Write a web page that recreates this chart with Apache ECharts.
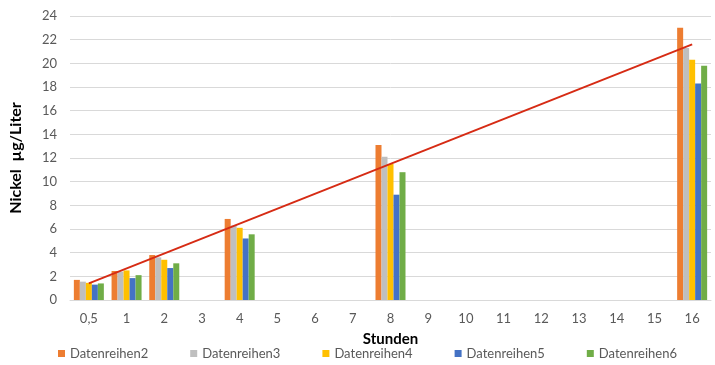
<!DOCTYPE html>
<html><head><meta charset="utf-8">
<script src="https://cdn.jsdelivr.net/npm/echarts@6/dist/echarts.min.js"></script>
<style>html,body{margin:0;padding:0;background:#fff}#c{width:715px;height:365px}</style>
</head><body><div id="c"></div>
<script>
const categories = ['0,5','1','2','3','4','5','6','7','8','9','10','11','12','13','14','15','16'];
const seriesNames = ['Datenreihen2','Datenreihen3','Datenreihen4','Datenreihen5','Datenreihen6'];
const d2 = [1.7, 2.45, 3.8, null, 6.85, null, null, null, 13.1, null, null, null, null, null, null, null, 23.0];
const d3 = [1.55, 2.4, 3.6, null, 6.3, null, null, null, 12.1, null, null, null, null, null, null, null, 21.3];
const d4 = [1.45, 2.5, 3.4, null, 6.1, null, null, null, 11.5, null, null, null, null, null, null, null, 20.3];
const d5 = [1.3, 1.85, 2.7, null, 5.2, null, null, null, 8.9, null, null, null, null, null, null, null, 18.3];
const d6 = [1.4, 2.1, 3.1, null, 5.55, null, null, null, 10.8, null, null, null, null, null, null, null, 19.8];
const trend = [1.4, null, null, null, null, null, null, null, null, null, null, null, null, null, null, null, 21.6];
const yTicks = {min: 0, max: 24, interval: 2};
const colors = ['#ED7D31','#BFBFBF','#FFC000','#4472C4','#70AD47'];
const font = 'Lato';
const chart = echarts.init(document.getElementById('c'));
const barData = [d2,d3,d4,d5,d6];
chart.setOption({
  animation: false,
  textStyle: {fontFamily: font},
  grid: {left: 68, right: 4, top: 16, bottom: 65},
  legend: {
    data: seriesNames, bottom: 0, left: 53, itemWidth: 7, itemHeight: 7, itemGap: 42, icon: 'rect',
    textStyle: {color: '#595959', fontSize: 13, fontFamily: font, width: 76}
  },
  xAxis: {
    type: 'category', data: categories,
    name: 'Stunden', nameLocation: 'middle', nameGap: 32,
    nameTextStyle: {color: '#000', fontSize: 15, fontWeight: 'bold', fontFamily: font},
    axisLine: {lineStyle: {color: '#D9D9D9'}}, axisTick: {show: false},
    axisLabel: {color: '#595959', fontSize: 13, margin: 12}
  },
  yAxis: {
    type: 'value', min: yTicks.min, max: yTicks.max, interval: yTicks.interval,
    name: 'Nickel  µg/Liter', nameLocation: 'middle', nameGap: 46, nameRotate: 90,
    nameTextStyle: {color: '#000', fontSize: 16, fontWeight: 'bold', fontFamily: font},
    axisLabel: {color: '#595959', fontSize: 13, margin: 13},
    splitLine: {lineStyle: {color: '#D9D9D9'}}, axisLine: {show: false}, axisTick: {show: false}
  },
  series: seriesNames.map((n, i) => ({
    name: n, type: 'bar', data: barData[i], barWidth: 6, barGap: '0%',
    itemStyle: {color: colors[i]}
  })).concat([{
    name: 'Trend', type: 'line', data: trend, connectNulls: true, symbol: 'none',
    lineStyle: {color: '#D62B14', width: 2}, z: 5
  }])
});
</script></body></html>
